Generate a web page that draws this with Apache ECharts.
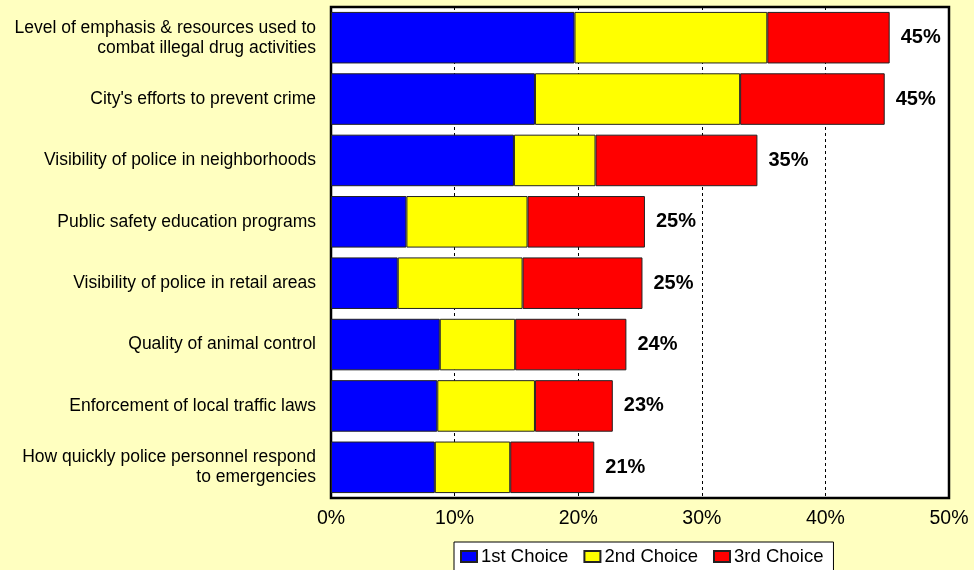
<!DOCTYPE html>
<html>
<head>
<meta charset="utf-8">
<script src="https://cdn.jsdelivr.net/npm/echarts@6/dist/echarts.min.js"></script>
<style>
  html, body { margin: 0; padding: 0; background: #FFFFC0; }
  #chart { width: 974px; height: 570px; }
</style>
</head>
<body>
<div id="chart"></div>
<script>
// Survey items, top to bottom
const categories = [
  'Level of emphasis & resources used to\ncombat illegal drug activities',
  "City's efforts to prevent crime",
  'Visibility of police in neighborhoods',
  'Public safety education programs',
  'Visibility of police in retail areas',
  'Quality of animal control',
  'Enforcement of local traffic laws',
  'How quickly police personnel respond\nto emergencies'
];

// Percent of respondents choosing each item (stacked)
const firstChoice  = [19.7, 16.5, 14.8, 6.1, 5.4, 8.8, 8.6, 8.4];
const secondChoice = [15.6, 16.6, 6.6, 9.8, 10.1, 6.1, 7.9, 6.1];
const thirdChoice  = [9.9, 11.7, 13.1, 9.5, 9.7, 9.0, 6.3, 6.8];

const seriesNames = ['1st Choice', '2nd Choice', '3rd Choice'];
const xTicks = [0, 10, 20, 30, 40, 50];

// Combined share per item, shown at the end of each bar
const totals = firstChoice.map((v, i) => v + secondChoice[i] + thirdChoice[i]);

const FONT = '"Liberation Sans", Arial, sans-serif';

const chart = echarts.init(document.getElementById('chart'));

const segStyle = color => ({ color: color, borderColor: '#222', borderWidth: 1 });

chart.setOption({
  backgroundColor: '#FFFFC0',
  animation: false,
  textStyle: { fontFamily: FONT },
  grid: {
    left: 331, right: 25, top: 7, bottom: 72,
    show: true, backgroundColor: '#FFFFFF', borderColor: '#000', borderWidth: 2.5
  },
  legend: {
    data: seriesNames,
    top: 542,
    left: 454,
    icon: 'rect',
    itemWidth: 16, itemHeight: 11, itemGap: 15,
    backgroundColor: '#FFFFFF',
    borderColor: '#000', borderWidth: 1,
    padding: [5, 10, 5, 6],
    textStyle: { fontSize: 18.5, color: '#000', fontFamily: FONT, padding: [0, 0, 0, -1] }
  },
  xAxis: {
    type: 'value',
    min: xTicks[0], max: xTicks[xTicks.length - 1], interval: 10,
    axisLine: { show: false },
    axisTick: { show: false },
    axisLabel: { formatter: '{value}%', fontSize: 19.5, color: '#000', margin: 11, fontFamily: FONT },
    splitLine: { show: true, lineStyle: { color: '#000', type: [3, 3], width: 1 } }
  },
  yAxis: {
    type: 'category',
    data: categories,
    inverse: true,
    axisLine: { show: false },
    axisTick: { show: false },
    axisLabel: { fontSize: 17.5, color: '#000', margin: 15, lineHeight: 20, align: 'right', fontFamily: FONT }
  },
  series: [
    { name: seriesNames[0], type: 'bar', stack: 'all', data: firstChoice, barCategoryGap: '16%', itemStyle: segStyle('#0000FF') },
    { name: seriesNames[1], type: 'bar', stack: 'all', data: secondChoice, itemStyle: segStyle('#FFFF00') },
    {
      name: seriesNames[2], type: 'bar', stack: 'all', data: thirdChoice, itemStyle: segStyle('#FF0000'),
      label: {
        show: true, position: 'right', distance: 11,
        formatter: p => Math.round(totals[p.dataIndex]) + '%',
        fontSize: 20, fontWeight: 'bold', color: '#000', fontFamily: FONT
      }
    }
  ]
});
</script>
</body>
</html>
